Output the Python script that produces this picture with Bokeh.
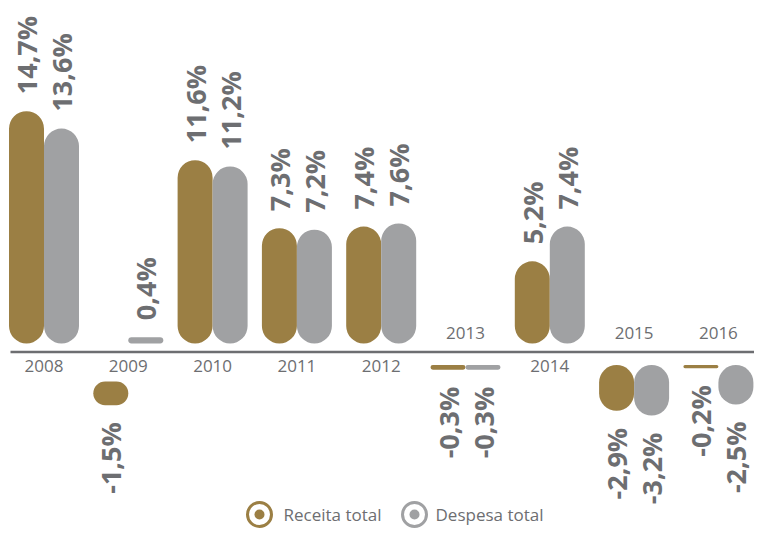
import math
from bokeh.plotting import figure
from bokeh.models import Range1d, ColumnDataSource
from bokeh.embed import file_html
from bokeh.resources import INLINE
from bokeh.core.properties import value

# ---- data ----
years = ["2008", "2009", "2010", "2011", "2012", "2013", "2014", "2015", "2016"]
receita = [14.7, -1.5, 11.6, 7.3, 7.4, -0.3, 5.2, -2.9, -0.2]
despesa = [13.6, 0.4, 11.2, 7.2, 7.6, -0.3, 7.4, -3.2, -2.5]
series_names = ["Receita total", "Despesa total"]
series_colors = ["#9b7f44", "#a0a1a3"]

# ---- layout (pixels in plot coordinates) ----
W, H = 754, 528
FIRST_CENTER = 43.5
GROUP = 84.3
BAR = 35
PX_PCT = 15.8
ZERO_Y = 343
AXIS_Y = 351.5
NEG_BASE_Y = 364.5
NEG_BASE_Y_LABEL_BELOW = 381
LABEL_GAP = 17
TXT = "#6d6e71"
LEG_Y = 514


def xd(px):
    return (px - FIRST_CENTER) / GROUP


def yd(py):
    return (ZERO_Y - py) / PX_PCT


p = figure(width=W, height=H, output_backend="svg", toolbar_location=None,
           x_range=Range1d(xd(0), xd(W)), y_range=Range1d(yd(H), yd(0)),
           x_axis_location=None, y_axis_location=None, min_border=0)
p.grid.visible = False
p.outline_line_color = None
p.background_fill_color = "white"

bw = BAR / GROUP
gap = LABEL_GAP / PX_PCT
label_above = [max(r, d) <= 0 for r, d in zip(receita, despesa)]

for s, (vals, col) in enumerate(zip([receita, despesa], series_colors)):
    left, right, top, bottom, lx, ly, ltxt, lalign = [], [], [], [], [], [], [], []
    for i, v in enumerate(vals):
        l = i + (s - 1) * bw
        r = i + s * bw
        left.append(l)
        right.append(r)
        if v >= 0:
            bottom.append(0)
            top.append(v)
            ly.append(v + gap)
            lalign.append("left")
        else:
            base = yd(NEG_BASE_Y) if label_above[i] else yd(NEG_BASE_Y_LABEL_BELOW)
            top.append(base)
            bottom.append(base + v)
            ly.append(base + v - gap)
            lalign.append("right")
        lx.append((l + r) / 2)
        ltxt.append(f"{v:.1f}".replace(".", ",") + "%")
    p.quad(left=left, right=right, top=top, bottom=bottom, fill_color=col,
           line_color=None, border_radius=18)
    src = ColumnDataSource(dict(x=lx, y=ly, t=ltxt, a=lalign))
    p.text(x="x", y="y", text="t", text_align="a", source=src, angle=math.pi / 2,
           text_baseline="middle", text_font=value("Open Sans"), text_font_style="bold",
           text_font_size="27px", text_color=TXT)

# axis line
p.segment(x0=[xd(10)], y0=[yd(AXIS_Y)], x1=[xd(W + 5)], y1=[yd(AXIS_Y)],
          line_color=TXT, line_width=2.5)

# year labels
yx = list(range(len(years)))
yy = [yd(AXIS_Y - 19) if a else yd(AXIS_Y + 14) for a in label_above]
p.text(x=yx, y=yy, text=years, text_align="center", text_baseline="middle",
       text_font=value("Open Sans"), text_font_size="17px", text_color=TXT)

# legend
for name, col, mx, tx in zip(series_names, series_colors, [259, 414], [283, 435]):
    p.scatter(x=[xd(mx)], y=[yd(LEG_Y)], size=24, fill_color="white",
              line_color=col, line_width=3)
    p.scatter(x=[xd(mx)], y=[yd(LEG_Y)], size=10, fill_color=col, line_color=None)
    p.text(x=[xd(tx)], y=[yd(LEG_Y)], text=[name], text_align="left",
           text_baseline="middle", text_font=value("Open Sans"),
           text_font_size="17px", text_color=TXT)

open("out.html", "w").write(file_html(p, INLINE))
